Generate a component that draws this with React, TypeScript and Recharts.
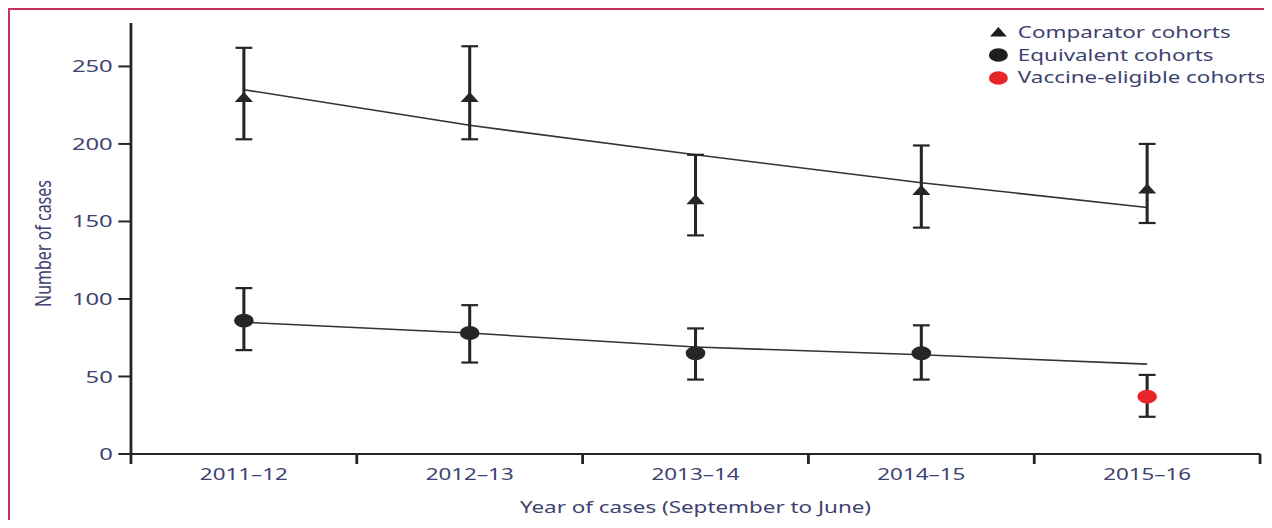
import React from 'react';
import { ComposedChart, Line, XAxis, YAxis, ErrorBar, Legend } from 'recharts';

const categories = ['2011–12', '2012–13', '2013–14', '2014–15', '2015–16'];

const comparatorCases = [230, 230, 164, 170, 171];
const comparatorLow = [203, 203, 141, 146, 149];
const comparatorHigh = [262, 263, 193, 199, 200];
const comparatorTrend = [235, 212, 193, 175, 159];

const equivalentCases = [86, 78, 65, 65];
const equivalentLow = [67, 59, 48, 48];
const equivalentHigh = [107, 96, 81, 83];
const equivalentTrend = [85, 78, 69, 64, 58];

const vaccineCases = [37];
const vaccineLow = [24];
const vaccineHigh = [51];

const yTicks = [0, 50, 100, 150, 200, 250];
const yDomain = [0, 278];
const legendLabels = ['Comparator cohorts', 'Equivalent cohorts', 'Vaccine-eligible cohorts'];
const legendShapes = ['triangle', 'circle', 'circle'];
const legendColors = ['#1e1e1e', '#1e1e1e', '#e8262a'];
const xLabel = 'Year of cases (September to June)';
const yLabel = 'Number of cases';

const FONT = "'Noto Sans', sans-serif";
const TEXT = '#3d4270';
const INK = '#262626';
const RED = '#e8262a';

const mkPoints = (vals: number[], lo: number[], hi: number[], start: number) =>
  vals.map((v, j) => ({ x: start + j + 0.5, y: v, err: [v - lo[j], hi[j] - v] }));

const comparatorData = mkPoints(comparatorCases, comparatorLow, comparatorHigh, 0);
const equivalentData = mkPoints(equivalentCases, equivalentLow, equivalentHigh, 0);
const vaccineData = mkPoints(vaccineCases, vaccineLow, vaccineHigh, categories.length - vaccineCases.length);
const comparatorTrendData = comparatorTrend.map((v, i) => ({ x: i + 0.5, y: v }));
const equivalentTrendData = equivalentTrend.map((v, i) => ({ x: i + 0.5, y: v }));

const xTicks: number[] = [];
for (let i = 0; i <= categories.length; i++) {
  xTicks.push(i);
  if (i < categories.length) xTicks.push(i + 0.5);
}

const triangleDot = (props: any) => {
  const { cx, cy, index } = props;
  if (cx == null || cy == null) return <g key={`t${index}`} />;
  return (
    <path
      key={`t${index}`}
      d={`M${cx},${cy - 5.5} L${cx + 6.5},${cy + 4.5} L${cx - 6.5},${cy + 4.5} Z`}
      fill={INK}
    />
  );
};

const circleDot = (color: string) => (props: any) => {
  const { cx, cy, index } = props;
  if (cx == null || cy == null) return <g key={`c${index}`} />;
  return <circle key={`c${index}`} cx={cx} cy={cy} r={7} fill={color} />;
};

const XTick = (props: any) => {
  const { x, y, payload } = props;
  const v = payload.value;
  if (Number.isInteger(v)) {
    return <line x1={x} x2={x} y1={y} y2={y + 10} stroke={INK} strokeWidth={2} />;
  }
  return (
    <text x={x} y={y + 26} textAnchor="middle" fill={TEXT} fontSize={16} fontFamily={FONT}>
      {categories[Math.floor(v)]}
    </text>
  );
};

const XLabel = (props: any) => {
  const { viewBox } = props;
  return (
    <text
      x={viewBox.x + viewBox.width / 2}
      y={viewBox.y + 59}
      textAnchor="middle"
      fill={TEXT}
      fontSize={16}
      fontFamily={FONT}
    >
      {xLabel}
    </text>
  );
};

const YLabel = (props: any) => {
  const { viewBox } = props;
  const x = viewBox.x + 16.5;
  const y = viewBox.y + viewBox.height / 2 + 5;
  return (
    <text
      x={x}
      y={y}
      transform={`rotate(-90, ${x}, ${y})`}
      textAnchor="middle"
      dominantBaseline="central"
      fill={TEXT}
      fontSize={16}
      fontFamily={FONT}
    >
      {yLabel}
    </text>
  );
};

const renderLegend = () => (
  <div style={{ fontFamily: FONT, fontSize: 16, lineHeight: '22.8px', color: TEXT }}>
    {legendLabels.map((label, i) => (
      <div key={label} style={{ display: 'flex', alignItems: 'center', whiteSpace: 'nowrap' }}>
        <svg width={14} height={14} style={{ marginRight: 7.2, display: 'block' }}>
          {legendShapes[i] === 'triangle' ? (
            <path d="M7,2 L13,11.5 L1,11.5 Z" fill={legendColors[i]} />
          ) : (
            <circle cx={7} cy={7} r={6.8} fill={legendColors[i]} />
          )}
        </svg>
        <span>{label}</span>
      </div>
    ))}
  </div>
);

export default function App() {
  return (
    <div
      style={{
        width: 1262,
        height: 510,
        borderTop: '2px solid #c8325a',
        borderLeft: '2px solid #c8325a',
        overflow: 'hidden',
        position: 'relative',
        background: '#fff',
      }}
    >
      <div style={{ width: 910, height: 510, transform: 'scaleX(1.4)', transformOrigin: '0 0' }}>
        <ComposedChart width={910} height={510} margin={{ top: 13, right: 17.1, bottom: 0, left: 6.4 }}>
          <XAxis
            type="number"
            dataKey="x"
            domain={[0, categories.length]}
            ticks={xTicks}
            interval={0}
            tickLine={false}
            tickSize={0}
            tickMargin={0}
            tick={<XTick />}
            axisLine={{ stroke: INK, strokeWidth: 2 }}
            height={66}
            allowDataOverflow
            label={<XLabel />}
          />
          <YAxis
            type="number"
            domain={yDomain}
            ticks={yTicks}
            interval={0}
            width={80}
            tickSize={9}
            tickMargin={4}
            axisLine={{ stroke: INK, strokeWidth: 2 }}
            tickLine={{ stroke: INK, strokeWidth: 2 }}
            tick={{ fill: TEXT, fontSize: 17, fontFamily: FONT }}
            allowDataOverflow
            label={<YLabel />}
          />
          <Legend
            layout="vertical"
            align="center"
            verticalAlign="middle"
            content={renderLegend}
            wrapperStyle={{ position: 'absolute', left: 698.7, top: 10.9, width: 'auto', height: 'auto' }}
          />
          <Line
            data={comparatorTrendData}
            dataKey="y"
            stroke="#333"
            strokeWidth={1.6}
            dot={false}
            activeDot={false}
            isAnimationActive={false}
            legendType="none"
          />
          <Line
            data={equivalentTrendData}
            dataKey="y"
            stroke="#333"
            strokeWidth={1.6}
            dot={false}
            activeDot={false}
            isAnimationActive={false}
            legendType="none"
          />
          <Line
            data={comparatorData}
            dataKey="y"
            stroke="none"
            dot={triangleDot}
            activeDot={false}
            isAnimationActive={false}
          >
            <ErrorBar dataKey="err" direction="y" width={6} strokeWidth={2.2} stroke={INK} />
          </Line>
          <Line
            data={equivalentData}
            dataKey="y"
            stroke="none"
            dot={circleDot(INK)}
            activeDot={false}
            isAnimationActive={false}
          >
            <ErrorBar dataKey="err" direction="y" width={6} strokeWidth={2.2} stroke={INK} />
          </Line>
          <Line
            data={vaccineData}
            dataKey="y"
            stroke="none"
            dot={circleDot(RED)}
            activeDot={false}
            isAnimationActive={false}
          >
            <ErrorBar dataKey="err" direction="y" width={6} strokeWidth={2.2} stroke={INK} />
          </Line>
        </ComposedChart>
      </div>
    </div>
  );
}
